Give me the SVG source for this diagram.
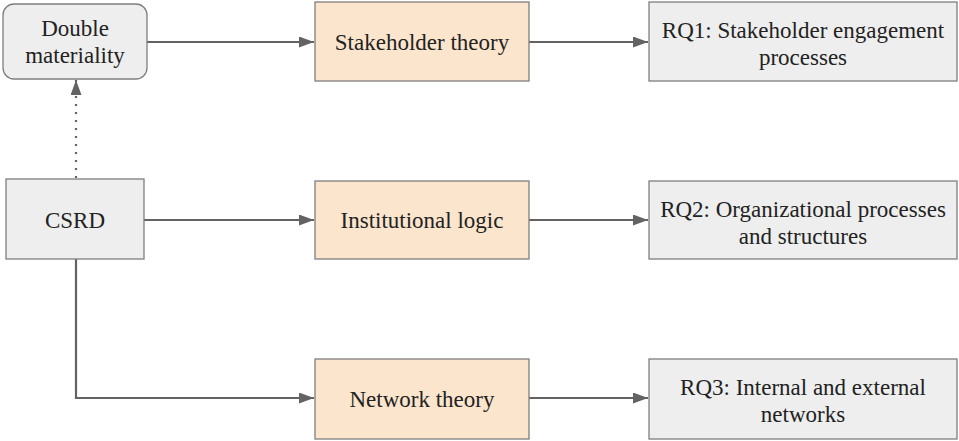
<svg xmlns="http://www.w3.org/2000/svg" width="959" height="441" viewBox="0 0 959 441">
  <style>
    .gray { fill: #eeeeee; stroke: #7f7f7f; stroke-width: 1.3; }
    .peach { fill: #fce5cd; stroke: #7f7f7f; stroke-width: 1.3; }
    .edge { fill: none; stroke: #636363; stroke-width: 2.2; }
    .dotted { stroke-dasharray: 2 6; }
  </style>
  <defs>
    <marker id="arrow" viewBox="0 0 15 11" refX="15" refY="5.5" markerWidth="15" markerHeight="11" orient="auto" markerUnits="userSpaceOnUse">
      <path d="M0,0 L15,5.5 L0,11 z" fill="#636363"/>
    </marker>
  </defs>

  <g id="connectors">
    <line class="edge" x1="147" y1="42" x2="314" y2="42" marker-end="url(#arrow)"/>
    <line class="edge" x1="529" y1="42" x2="648" y2="42" marker-end="url(#arrow)"/>
    <line class="edge" x1="144" y1="220" x2="314" y2="220" marker-end="url(#arrow)"/>
    <line class="edge" x1="529" y1="220" x2="648" y2="220" marker-end="url(#arrow)"/>
    <polyline class="edge" points="76,259 76,398 314,398" marker-end="url(#arrow)"/>
    <line class="edge" x1="529" y1="398" x2="648" y2="398" marker-end="url(#arrow)"/>
    <line class="edge dotted" x1="76" y1="178" x2="76" y2="80" marker-end="url(#arrow)"/>
  </g>

  <g id="double-materiality">
    <rect class="gray" x="3" y="4" width="144" height="75" rx="11" ry="11"/>
    <text x="75" y="36" style="font-family: 'Liberation Serif'; font-size: 23px; fill: #222222; text-anchor: middle">Double</text>
    <text x="75" y="63" style="font-family: 'Liberation Serif'; font-size: 23px; fill: #222222; text-anchor: middle">materiality</text>
  </g>

  <g id="csrd">
    <rect class="gray" x="6" y="179" width="138" height="80"/>
    <text x="75" y="228" style="font-family: 'Liberation Serif'; font-size: 23px; fill: #222222; text-anchor: middle">CSRD</text>
  </g>

  <g id="stakeholder-theory">
    <rect class="peach" x="315" y="2" width="214" height="79"/>
    <text x="422" y="50" style="font-family: 'Liberation Serif'; font-size: 23px; fill: #222222; text-anchor: middle">Stakeholder theory</text>
  </g>

  <g id="institutional-logic">
    <rect class="peach" x="315" y="181" width="214" height="78"/>
    <text x="422" y="228" style="font-family: 'Liberation Serif'; font-size: 23px; fill: #222222; text-anchor: middle">Institutional logic</text>
  </g>

  <g id="network-theory">
    <rect class="peach" x="315" y="359" width="214" height="80"/>
    <text x="422" y="407" style="font-family: 'Liberation Serif'; font-size: 23px; fill: #222222; text-anchor: middle">Network theory</text>
  </g>

  <g id="rq1">
    <rect class="gray" x="649" y="2" width="308" height="79"/>
    <text x="803" y="38" style="font-family: 'Liberation Serif'; font-size: 23px; fill: #222222; text-anchor: middle">RQ1: Stakeholder engagement</text>
    <text x="803" y="65" style="font-family: 'Liberation Serif'; font-size: 23px; fill: #222222; text-anchor: middle">processes</text>
  </g>

  <g id="rq2">
    <rect class="gray" x="649" y="181" width="308" height="78"/>
    <text x="803" y="217" style="font-family: 'Liberation Serif'; font-size: 23px; fill: #222222; text-anchor: middle">RQ2: Organizational processes</text>
    <text x="803" y="244" style="font-family: 'Liberation Serif'; font-size: 23px; fill: #222222; text-anchor: middle">and structures</text>
  </g>

  <g id="rq3">
    <rect class="gray" x="649" y="359" width="308" height="80"/>
    <text x="803" y="395" style="font-family: 'Liberation Serif'; font-size: 23px; fill: #222222; text-anchor: middle">RQ3: Internal and external</text>
    <text x="803" y="422" style="font-family: 'Liberation Serif'; font-size: 23px; fill: #222222; text-anchor: middle">networks</text>
  </g>
</svg>
